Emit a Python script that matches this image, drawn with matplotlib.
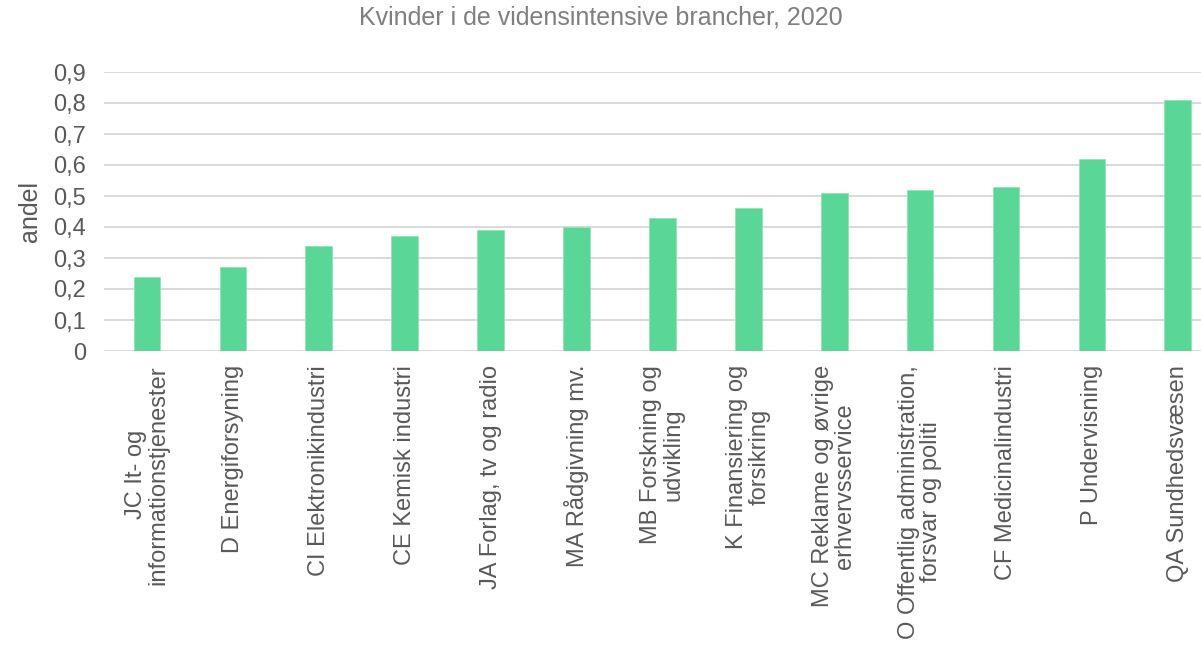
import matplotlib
matplotlib.use("Agg")
import matplotlib.pyplot as plt
from matplotlib.ticker import FuncFormatter

# --------------- data ---------------
categories = [
    "JC It- og\ninformationstjenester",
    "D Energiforsyning",
    "CI Elektronikindustri",
    "CE Kemisk industri",
    "JA Forlag, tv og radio",
    "MA Rådgivning mv.",
    "MB Forskning og\nudvikling",
    "K Finansiering og\nforsikring",
    "MC Reklame og øvrige\nerhvervsservice",
    "O Offentlig administration,\nforsvar og politi",
    "CF Medicinalindustri",
    "P Undervisning",
    "QA Sundhedsvæsen",
]
andel = [0.24, 0.27, 0.34, 0.37, 0.39, 0.40, 0.43, 0.46, 0.51, 0.52, 0.53, 0.62, 0.81]
yticks = [0, 0.1, 0.2, 0.3, 0.4, 0.5, 0.6, 0.7, 0.8, 0.9]

plt.rcParams["font.family"] = ["Liberation Sans", "DejaVu Sans"]
text_color = "#595959"

fig = plt.figure(figsize=(12.01, 6.47), dpi=100)
ax = fig.add_axes([104 / 1201, 1 - 351 / 647, 1 - 104 / 1201, (351 - 72) / 647])

x = list(range(len(categories)))
ax.bar(x, andel, width=0.31, color="#5AD696", edgecolor="#8FE6B8", linewidth=0.6, zorder=3)

ax.set_ylim(0, 0.9)
ax.set_xlim(-0.5, 12.27)
ax.set_yticks(yticks)
ax.yaxis.set_major_formatter(FuncFormatter(lambda v, p: f"{v:.1f}".replace(".", ",") if v else "0"))
ax.grid(axis="y", color="#d9d9d9", linewidth=1.4, zorder=0)
ax.set_axisbelow(True)
for s in ax.spines.values():
    s.set_visible(False)

ax.set_xticks(x)
ax.set_xticklabels(categories, rotation=90, ha="center", va="top",
                   multialignment="center", fontsize=17, color=text_color,
                   linespacing=1.0)
ax.tick_params(axis="x", length=0, pad=10)
ax.tick_params(axis="y", length=0, pad=13, labelsize=17, labelcolor=text_color)

ax.set_ylabel("andel", fontsize=18, color=text_color, labelpad=8)
fig.text(0.5, 1 - 18 / 647, "Kvinder i de vidensintensive brancher, 2020",
         ha="center", va="center", fontsize=18, color="#7f7f7f")

fig.savefig("out.png", dpi=100)
